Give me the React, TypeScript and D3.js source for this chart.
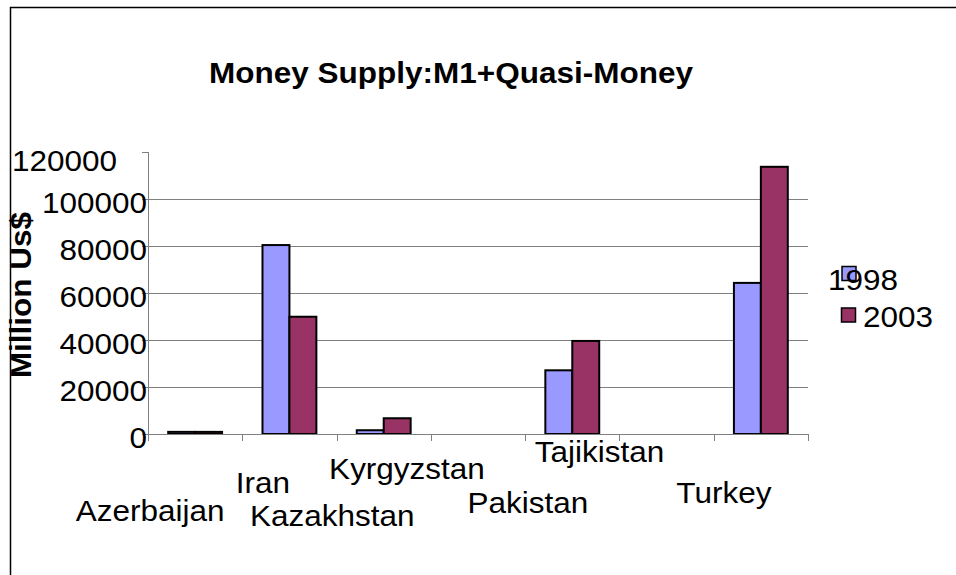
import React from "react";
import * as d3 from "d3";

// ---- data ----
const categories = ["Azerbaijan", "Iran", "Kazakhstan", "Kyrgyzstan", "Pakistan", "Tajikistan", "Turkey"];
const seriesNames = ["1998", "2003"];
const values1998: (number | null)[] = [900, 80400, 1600, null, 27100, null, 64300];
const values2003: (number | null)[] = [900, 49900, 6700, null, 39600, null, 113700];
const yTicks = [0, 20000, 40000, 60000, 80000, 100000, 120000];
const titleText = "Money Supply:M1+Quasi-Money";
const yTitle = "Million Us$";

// ---- layout (label placement as rendered in reference) ----
const labelDx = [-45, -26.5, -51.5, -71, -44.5, -67, -37];
const labelBaseline = [521, 493, 526, 479, 513, 462, 503];

const W = 956, H = 575;
const plot = { left: 148, right: 808, top: 152, bottom: 434 };
const colors = ["#9999FF", "#993366"];
const FONT = "'Liberation Sans', Arial, sans-serif";
const FS = 30;
const SX = 1.05;

export default function App() {
  const x = d3.scaleBand<string>().domain(categories).range([plot.left, plot.right]).paddingInner(0).paddingOuter(0);
  const y = d3.scaleLinear().domain([0, 120000]).range([plot.bottom, plot.top]);
  const bw = x.bandwidth();
  const barW = bw / 3.5;
  const xs = d3.scaleBand<string>().domain(seriesNames).range([0, 2 * barW]);
  const series = [values1998, values2003];

  const T = (props: { x: number; y: number; anchor?: string; bold?: boolean; rotate?: number; children: any }) => (
    <text
      transform={`translate(${props.x},${props.y})${props.rotate ? ` rotate(${props.rotate})` : ""} scale(${SX},1)`}
      textAnchor={props.anchor || "start"}
      fontFamily={FONT}
      fontSize={FS}
      fontWeight={props.bold ? "bold" : "normal"}
      fill="#000"
    >
      {props.children}
    </text>
  );

  return (
    <svg width={W} height={H} style={{ position: "absolute", left: 0, top: 0, background: "#fff" }}>
      <rect x={0} y={0} width={W} height={H} fill="#fff" />
      {/* chart frame */}
      <rect x={10.5} y={7.5} width={1200} height={1200} fill="none" stroke="#000" strokeWidth={1.5} />

      {/* title */}
      <T x={451} y={83} anchor="middle" bold>{titleText}</T>

      {/* gridlines */}
      {yTicks.filter((t) => t > 0 && t < 120000).map((t) => (
        <line key={"g" + t} x1={plot.left} x2={plot.right} y1={Math.round(y(t)) + 0.5} y2={Math.round(y(t)) + 0.5} stroke="#808080" strokeWidth={1} />
      ))}

      {/* bars */}
      {categories.map((c, i) => (
        <g key={c}>
          {series.map((s, k) => {
            const v = s[i];
            if (v == null) return null;
            const x0 = (x(c) as number) + (bw - 2 * barW) / 2 + (xs(seriesNames[k]) as number);
            return (
              <rect key={k} x={x0} y={y(v)} width={barW} height={y(0) - y(v)} fill={colors[k]} stroke="#000" strokeWidth={2} />
            );
          })}
        </g>
      ))}

      {/* y axis */}
      <line x1={plot.left + 0.5} x2={plot.left + 0.5} y1={plot.top} y2={plot.bottom} stroke="#808080" strokeWidth={1} />
      {yTicks.map((t) => (
        <line key={"yt" + t} x1={plot.left - 6} x2={plot.left} y1={Math.round(y(t)) + 0.5} y2={Math.round(y(t)) + 0.5} stroke="#808080" strokeWidth={1} />
      ))}
      {yTicks.map((t, i) => {
        const top = i === yTicks.length - 1;
        return (
          <T key={"yl" + t} x={top ? 117 : 147} y={y(t) + (top ? 19 : 14)} anchor="end">
            {String(t)}
          </T>
        );
      })}

      {/* x axis */}
      <line x1={plot.left} x2={plot.right + 1} y1={plot.bottom + 0.5} y2={plot.bottom + 0.5} stroke="#808080" strokeWidth={1} />
      {categories.concat(["end"]).map((c, i) => {
        const xx = Math.round(plot.left + i * bw) + 0.5;
        return <line key={"xt" + i} x1={xx} x2={xx} y1={plot.bottom} y2={plot.bottom + 7} stroke="#808080" strokeWidth={1} />;
      })}
      {categories.map((c, i) => (
        <T key={"xl" + c} x={(x(c) as number) + bw / 2 + labelDx[i]} y={labelBaseline[i]} anchor="middle">
          {c}
        </T>
      ))}

      {/* y title */}
      <T x={31} y={295} anchor="middle" bold rotate={-90}>{yTitle}</T>

      {/* legend */}
      <rect x={842} y={266.5} width={14} height={14} fill={colors[0]} stroke="#000" strokeWidth={1.5} />
      <T x={828} y={290}>{seriesNames[0]}</T>
      <rect x={841.5} y={308} width={14} height={14} fill={colors[1]} stroke="#000" strokeWidth={1.5} />
      <T x={863} y={327}>{seriesNames[1]}</T>
    </svg>
  );
}
